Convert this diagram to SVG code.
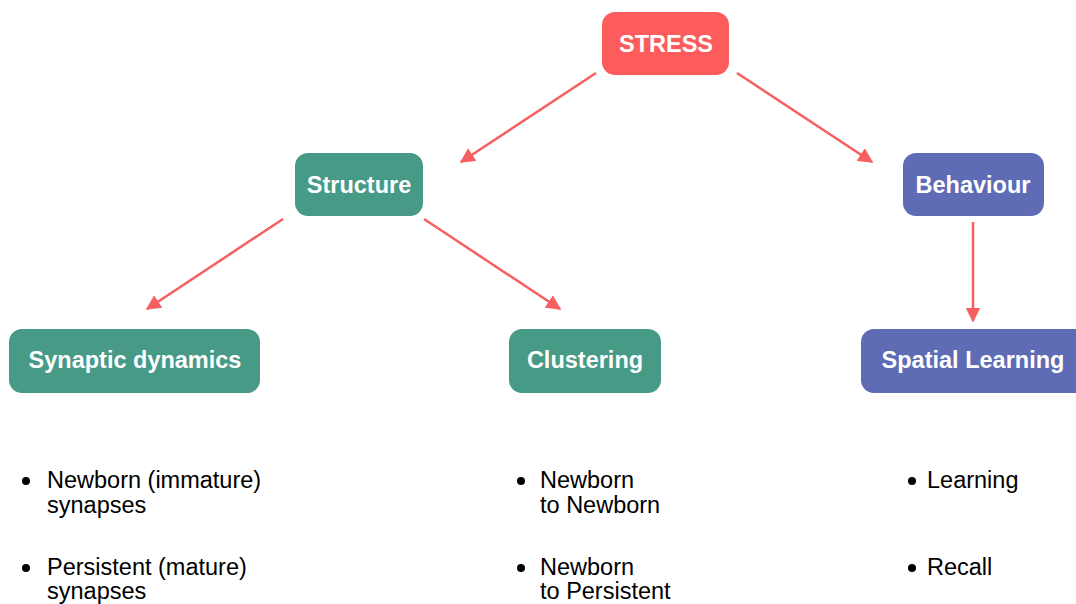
<svg xmlns="http://www.w3.org/2000/svg" width="1076" height="604" viewBox="0 0 1076 604">
<defs>
<style>
.box-red{fill:#fd5c5c}
.box-green{fill:#469a86}
.box-blue{fill:#5e6bb5}
.lbl{font-family:"Liberation Sans",Arial,sans-serif;font-weight:bold;font-size:23.5px;fill:#fff;text-anchor:middle}
.bt{font-family:"Liberation Sans",Arial,sans-serif;font-size:23.5px;fill:#000}
.conn{stroke:#f65f5f;stroke-width:2.5;fill:none;marker-end:url(#ah)}
</style>
<marker id="ah" viewBox="0 0 10 10" refX="9" refY="5" markerWidth="6" markerHeight="6" markerUnits="strokeWidth" orient="auto">
<path d="M0,0 L10,5 L0,10 z" fill="#f65f5f"/>
</marker>
</defs>
<rect width="1076" height="604" fill="#fff"/>
<g id="connectors">
<line class="conn" x1="596" y1="73" x2="461" y2="162"/>
<line class="conn" x1="737" y1="73" x2="872" y2="162"/>
<line class="conn" x1="283" y1="219" x2="147" y2="309"/>
<line class="conn" x1="424" y1="219" x2="560" y2="309"/>
<line class="conn" x1="973" y1="222" x2="973" y2="321"/>
</g>
<g id="stress">
<rect class="box-red" x="602" y="12" width="127" height="63" rx="13"/>
<text class="lbl" x="666" y="52">STRESS</text>
</g>
<g id="structure">
<rect class="box-green" x="295" y="153" width="128" height="63" rx="13"/>
<text class="lbl" x="359" y="193">Structure</text>
</g>
<g id="behaviour">
<rect class="box-blue" x="903" y="153" width="141" height="63" rx="13"/>
<text class="lbl" x="973" y="193">Behaviour</text>
</g>
<g id="synaptic">
<rect class="box-green" x="9" y="329" width="251" height="64" rx="13"/>
<text class="lbl" x="135" y="368">Synaptic dynamics</text>
</g>
<g id="clustering">
<rect class="box-green" x="509" y="329" width="152" height="64" rx="13"/>
<text class="lbl" x="585" y="368">Clustering</text>
</g>
<g id="spatial">
<rect class="box-blue" x="861" y="329" width="230" height="64" rx="13"/>
<text class="lbl" x="973" y="368">Spatial Learning</text>
</g>
<g id="synaptic-list">
<circle cx="26" cy="481" r="4"/>
<text class="bt" x="47" y="488">Newborn (immature)</text>
<text class="bt" x="47" y="513">synapses</text>
<circle cx="26" cy="568" r="4"/>
<text class="bt" x="47" y="575">Persistent (mature)</text>
<text class="bt" x="47" y="599">synapses</text>
</g>
<g id="clustering-list">
<circle cx="521" cy="481" r="4"/>
<text class="bt" x="540" y="488">Newborn</text>
<text class="bt" x="540" y="513">to Newborn</text>
<circle cx="521" cy="568" r="4"/>
<text class="bt" x="540" y="575">Newborn</text>
<text class="bt" x="540" y="599">to Persistent</text>
</g>
<g id="spatial-list">
<circle cx="912" cy="481" r="4"/>
<text class="bt" x="927" y="488">Learning</text>
<circle cx="912" cy="568" r="4"/>
<text class="bt" x="927" y="575">Recall</text>
</g>
</svg>
